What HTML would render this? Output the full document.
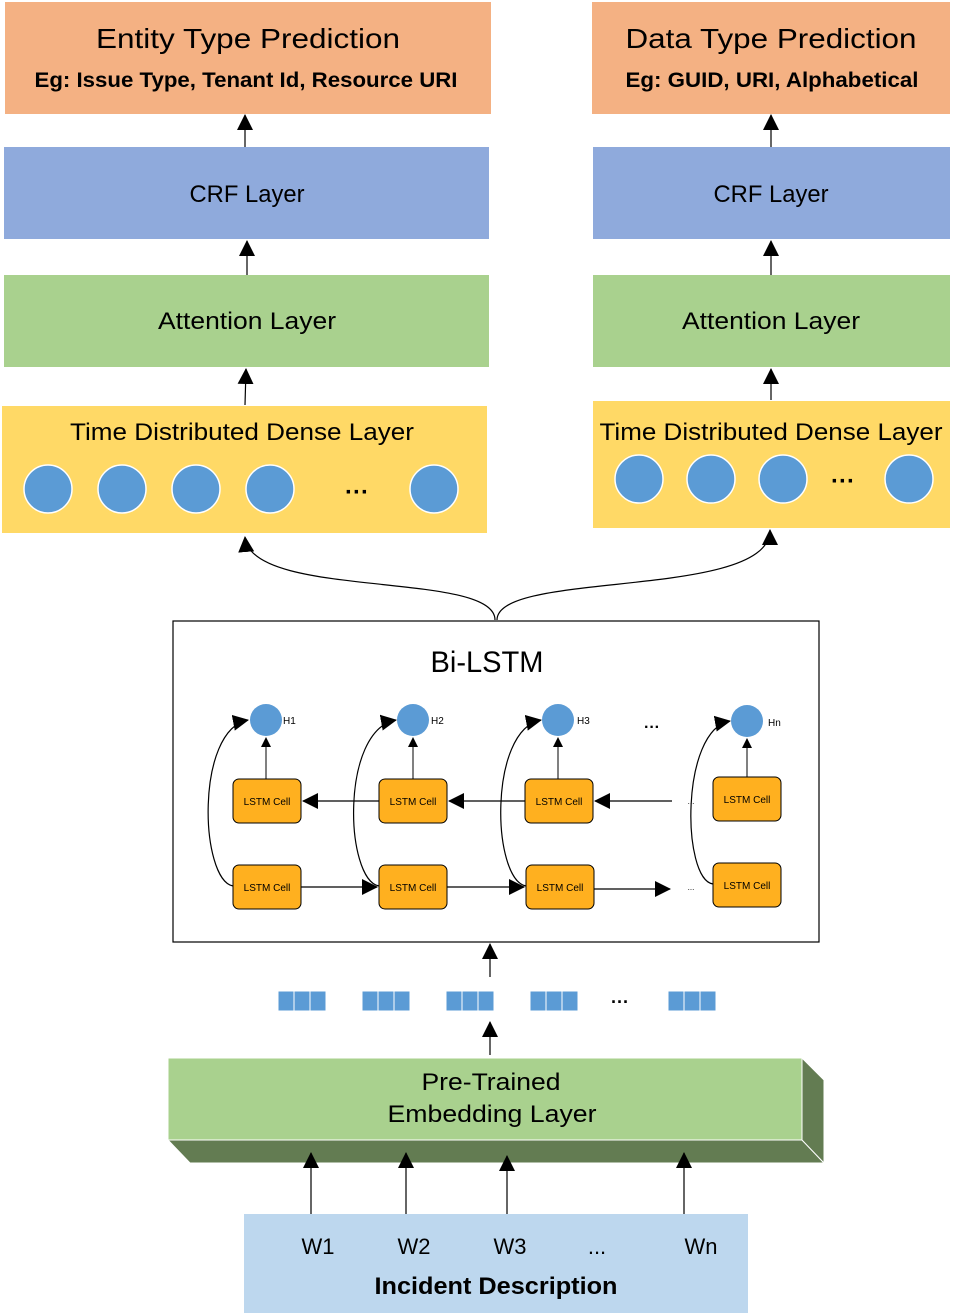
<!DOCTYPE html>
<html><head><meta charset="utf-8"><style>
html,body{margin:0;padding:0;background:#fff;}
svg{display:block;font-family:"Liberation Sans","DejaVu Sans",sans-serif;}
</style></head><body>
<svg width="958" height="1316" viewBox="0 0 958 1316" xmlns="http://www.w3.org/2000/svg">
<defs>
<marker id="a" markerWidth="10" markerHeight="10" refX="9" refY="5" orient="auto" markerUnits="userSpaceOnUse"><path d="M0,0 L10,5 L0,10 Z" fill="#000"/></marker>
<marker id="b" markerWidth="16" markerHeight="16" refX="15" refY="8" orient="auto" markerUnits="userSpaceOnUse"><path d="M0,0 L16,8 L0,16 Z" fill="#000"/></marker>
</defs>
<!-- top left -->
<rect x="5" y="2" width="486" height="112" fill="#f4b183"/>
<text x="248" y="48" font-size="28" text-anchor="middle" textLength="304" lengthAdjust="spacingAndGlyphs">Entity Type Prediction</text>
<text x="246" y="87" font-size="21" font-weight="bold" text-anchor="middle" textLength="423" lengthAdjust="spacingAndGlyphs">Eg: Issue Type, Tenant Id, Resource URI</text>
<rect x="4" y="147" width="485" height="92" fill="#8faadc"/>
<text x="247" y="202" font-size="24" text-anchor="middle" textLength="115" lengthAdjust="spacingAndGlyphs">CRF Layer</text>
<rect x="4" y="275" width="485" height="92" fill="#a9d18e"/>
<text x="247" y="329" font-size="24" text-anchor="middle" textLength="178" lengthAdjust="spacingAndGlyphs">Attention Layer</text>
<rect x="2" y="406" width="485" height="127" fill="#ffd966"/>
<text x="242" y="440" font-size="24" text-anchor="middle" textLength="344" lengthAdjust="spacingAndGlyphs">Time Distributed Dense Layer</text>
<!-- top right -->
<rect x="592" y="2" width="358" height="112" fill="#f4b183"/>
<text x="771" y="48" font-size="28" text-anchor="middle" textLength="291" lengthAdjust="spacingAndGlyphs">Data Type Prediction</text>
<text x="772" y="87" font-size="21" font-weight="bold" text-anchor="middle" textLength="293" lengthAdjust="spacingAndGlyphs">Eg: GUID, URI, Alphabetical</text>
<rect x="593" y="147" width="357" height="92" fill="#8faadc"/>
<text x="771" y="202" font-size="24" text-anchor="middle" textLength="115" lengthAdjust="spacingAndGlyphs">CRF Layer</text>
<rect x="593" y="275" width="357" height="92" fill="#a9d18e"/>
<text x="771" y="329" font-size="24" text-anchor="middle" textLength="178" lengthAdjust="spacingAndGlyphs">Attention Layer</text>
<rect x="593" y="401" width="357" height="127" fill="#ffd966"/>
<text x="771" y="440" font-size="24" text-anchor="middle" textLength="343" lengthAdjust="spacingAndGlyphs">Time Distributed Dense Layer</text>
<g fill="#5b9bd5" stroke="#fff" stroke-width="1.5">
<circle cx="48" cy="489" r="24"/><circle cx="122" cy="489" r="24"/><circle cx="196" cy="489" r="24"/><circle cx="270" cy="489" r="24"/><circle cx="434" cy="489" r="24"/>
<circle cx="639" cy="479" r="24"/><circle cx="711" cy="479" r="24"/><circle cx="783" cy="479" r="24"/><circle cx="909" cy="479" r="24"/>
</g>
<text x="357" y="500" font-size="24" text-anchor="middle" font-weight="bold">···</text>
<text x="843" y="489" font-size="24" text-anchor="middle" font-weight="bold">···</text>
<!-- arrows -->
<g stroke="#000" stroke-width="1.2" fill="none" marker-end="url(#b)">
<line x1="245" y1="147" x2="245" y2="115"/>
<line x1="247" y1="275" x2="247" y2="241"/>
<line x1="245" y1="405" x2="246" y2="369"/>
<line x1="771" y1="147" x2="771" y2="115"/>
<line x1="771" y1="275" x2="771" y2="241"/>
<line x1="771" y1="400" x2="771" y2="369"/>
<path d="M495,620 C495,570 250,600 245,537"/>
<path d="M497,620 C497,570 770,600 770,530"/>
<line x1="490" y1="977" x2="490" y2="944"/>
<line x1="490" y1="1055" x2="490" y2="1022"/>
</g>
<!-- Bi-LSTM -->
<rect x="173" y="621" width="646" height="321" fill="#fff" stroke="#000" stroke-width="1.2"/>
<text x="487" y="672" font-size="30" text-anchor="middle" textLength="113" lengthAdjust="spacingAndGlyphs">Bi-LSTM</text>
<g fill="#5b9bd5">
<circle cx="266" cy="720" r="16"/><circle cx="413" cy="720" r="16"/><circle cx="558" cy="720" r="16"/><circle cx="747" cy="721" r="16"/>
</g>
<g font-size="10">
<text x="283" y="724">H1</text><text x="431" y="724">H2</text><text x="577" y="724">H3</text><text x="768" y="726">Hn</text>
</g>
<text x="652" y="732" font-size="16" text-anchor="middle" font-weight="bold">···</text>
<g fill="#ffb01f" stroke="#000" stroke-width="1">
<rect x="233" y="779" width="68" height="44" rx="6"/><rect x="379" y="779" width="68" height="44" rx="6"/><rect x="525" y="779" width="68" height="44" rx="6"/><rect x="713" y="777" width="68" height="44" rx="6"/>
<rect x="233" y="865" width="68" height="44" rx="6"/><rect x="379" y="865" width="68" height="44" rx="6"/><rect x="526" y="865" width="68" height="44" rx="6"/><rect x="713" y="863" width="68" height="44" rx="6"/>
</g>
<g font-size="10" text-anchor="middle" fill="#000">
<text x="267" y="805">LSTM Cell</text><text x="413" y="805">LSTM Cell</text><text x="559" y="805">LSTM Cell</text><text x="747" y="803">LSTM Cell</text>
<text x="267" y="891">LSTM Cell</text><text x="413" y="891">LSTM Cell</text><text x="560" y="891">LSTM Cell</text><text x="747" y="889">LSTM Cell</text>
<text x="691" y="804" font-size="8">...</text><text x="691" y="890" font-size="8">...</text>
</g>
<g stroke="#000" stroke-width="1" fill="none" marker-end="url(#a)">
<line x1="266" y1="779" x2="266" y2="738"/>
<line x1="413" y1="779" x2="413" y2="738"/>
<line x1="558" y1="779" x2="558" y2="738"/>
<line x1="747" y1="777" x2="747" y2="739"/>
</g>
<g stroke="#000" stroke-width="1.2" fill="none" marker-end="url(#b)">
<line x1="379" y1="801" x2="303" y2="801"/>
<line x1="525" y1="801" x2="449" y2="801"/>
<line x1="672" y1="801" x2="595" y2="801"/>
<line x1="301" y1="887" x2="377" y2="887"/>
<line x1="447" y1="887" x2="524" y2="887"/>
<line x1="594" y1="889" x2="670" y2="889"/>
<path d="M233,886 C200,880 195,730 248,720"/>
<path d="M379,886 C345,880 340,730 396,720"/>
<path d="M526,886 C492,880 488,730 541,720"/>
<path d="M713,884 C682,880 680,730 730,721"/>
</g>
<!-- embedding vectors -->
<g fill="#5b9bd5" stroke="#fff" stroke-width="1">
<rect x="278" y="991" width="16" height="20"/><rect x="294" y="991" width="16" height="20"/><rect x="310" y="991" width="16" height="20"/>
<rect x="362" y="991" width="16" height="20"/><rect x="378" y="991" width="16" height="20"/><rect x="394" y="991" width="16" height="20"/>
<rect x="446" y="991" width="16" height="20"/><rect x="462" y="991" width="16" height="20"/><rect x="478" y="991" width="16" height="20"/>
<rect x="530" y="991" width="16" height="20"/><rect x="546" y="991" width="16" height="20"/><rect x="562" y="991" width="16" height="20"/>
<rect x="668" y="991" width="16" height="20"/><rect x="684" y="991" width="16" height="20"/><rect x="700" y="991" width="16" height="20"/>
</g>
<text x="620" y="1008" font-size="18" text-anchor="middle" font-weight="bold">···</text>
<!-- embedding slab -->
<polygon points="168,1140 802,1140 824,1163 190,1163" fill="#637c52" stroke="#fff" stroke-width="1"/>
<polygon points="802,1058 824,1080 824,1163 802,1140" fill="#637c52" stroke="#fff" stroke-width="1"/>
<rect x="168" y="1058" width="634" height="82" fill="#a9d18e" stroke="#fff" stroke-width="1"/>
<text x="491" y="1090" font-size="24" text-anchor="middle" textLength="139" lengthAdjust="spacingAndGlyphs">Pre-Trained</text>
<text x="492" y="1122" font-size="24" text-anchor="middle" textLength="209" lengthAdjust="spacingAndGlyphs">Embedding Layer</text>
<g stroke="#000" stroke-width="1.2" fill="none" marker-end="url(#b)">
<line x1="311" y1="1214" x2="311" y2="1153"/>
<line x1="406" y1="1214" x2="406" y2="1153"/>
<line x1="507" y1="1214" x2="507" y2="1156"/>
<line x1="684" y1="1214" x2="684" y2="1153"/>
</g>
<!-- incident -->
<rect x="244" y="1214" width="504" height="99" fill="#bdd7ee"/>
<g font-size="22" text-anchor="middle">
<text x="318" y="1254">W1</text><text x="414" y="1254">W2</text><text x="510" y="1254">W3</text><text x="597" y="1254">...</text><text x="701" y="1254">Wn</text>
</g>
<text x="496" y="1294" font-size="24" font-weight="bold" text-anchor="middle" textLength="243" lengthAdjust="spacingAndGlyphs">Incident Description</text>
</svg>
</body></html>
